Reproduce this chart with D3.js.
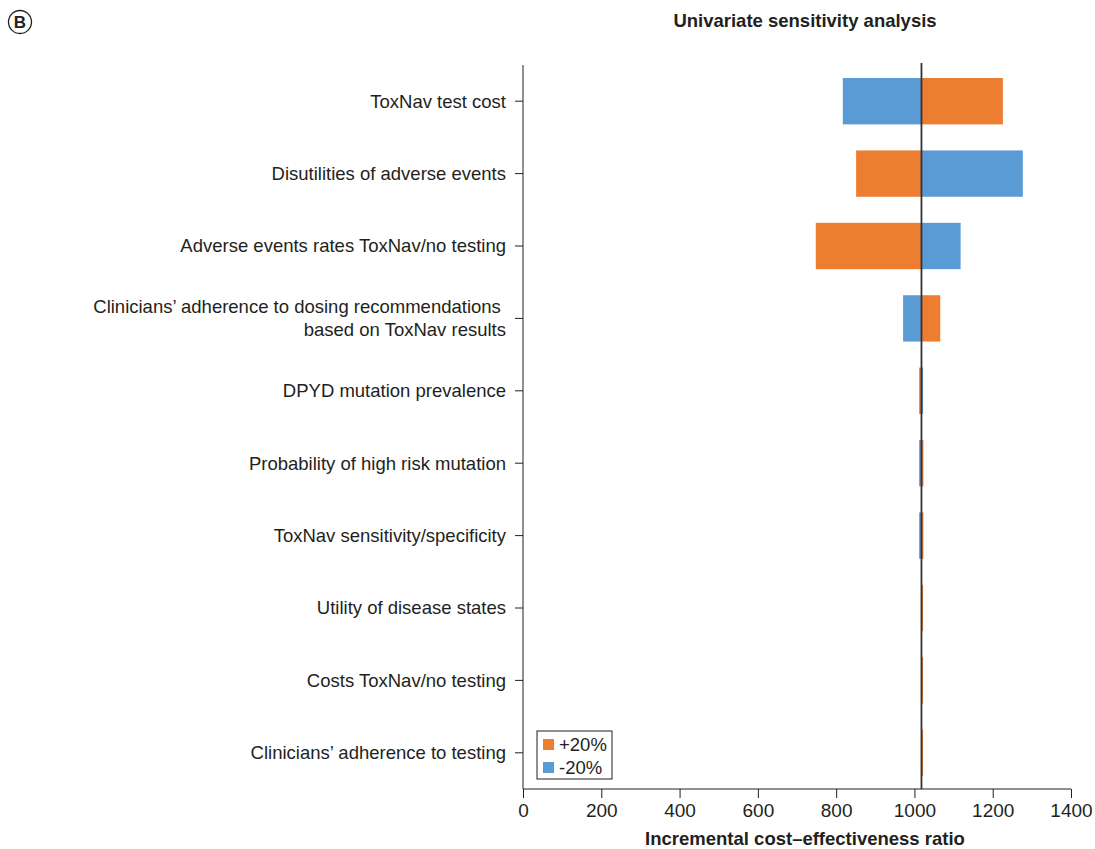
<!DOCTYPE html>
<html>
<head>
<meta charset="utf-8">
<script src="https://cdn.jsdelivr.net/npm/d3@7"></script>
<style>
  body { margin: 0; background: #fff; font-family: "Liberation Sans", Arial, sans-serif; }
  .tick text { font-size: 18.5px; fill: #231f20; font-family: "Liberation Sans", Arial, sans-serif; }
  .xaxis .tick text { font-size: 19px; }
  .domain, .tick line { stroke: #231f20; }
</style>
</head>
<body>
<svg id="chart"></svg>
<script>
//Chart Data
const categories = [
  "ToxNav test cost",
  "Disutilities of adverse events",
  "Adverse events rates ToxNav/no testing",
  "Clinicians\u2019 adherence to dosing recommendations \nbased on ToxNav results",
  "DPYD mutation prevalence",
  "Probability of high risk mutation",
  "ToxNav sensitivity/specificity",
  "Utility of disease states",
  "Costs ToxNav/no testing",
  "Clinicians\u2019 adherence to testing"
];
const baseICER = 1018;
const plus20 = [1226, 851, 748, 1066, 1012, 1023, 1023, 1022, 1022, 1022];
const minus20 = [817, 1277, 1118, 971, 1022, 1012, 1012, 1018, 1018, 1018];
const xTicks = [0, 200, 400, 600, 800, 1000, 1200, 1400];

//Draw Chart
function drawChart(){
  const w = 1095;
  const h = 849;
  const left = 523, right = 1071, top = 65, bottom = 789;
  const orange = "#ED7D31", blue = "#5B9BD5";

  const svg = d3.select("#chart").attr("width", w).attr("height", h);

  const xScale = d3.scaleLinear().domain([0, 1400]).range([left, right]);
  const yScale = d3.scaleBand().domain(categories).range([top, bottom])
                   .paddingInner(0.36).paddingOuter(0.18);

  //Bars: draw the -20% first then +20% for each row
  const rows = categories.map((c, i) => ({cat: c, p: plus20[i], m: minus20[i]}));
  const drawBars = (key, color) => {
    svg.append("g").selectAll("rect")
      .data(rows).enter().append("rect")
      .attr("x", d => xScale(Math.min(baseICER, d[key])))
      .attr("width", d => Math.max(Math.abs(xScale(d[key]) - xScale(baseICER)), 0))
      .attr("y", d => yScale(d.cat))
      .attr("height", yScale.bandwidth())
      .attr("fill", color);
  };
  drawBars("m", blue);
  drawBars("p", orange);

  //Base line
  svg.append("line")
     .attr("x1", xScale(baseICER)).attr("x2", xScale(baseICER))
     .attr("y1", top - 2).attr("y2", bottom)
     .attr("stroke", "#333").attr("stroke-width", 1.8);

  //Axes
  svg.append("g")
     .attr("class", "xaxis")
     .attr("transform", "translate(0," + bottom + ")")
     .call(d3.axisBottom(xScale).tickValues(xTicks).tickSize(9).tickPadding(6).tickFormat(d3.format("d")))
     .call(g => g.select(".domain").attr("d", "M" + left + ",0H" + right));

  const yAxis = svg.append("g")
     .attr("transform", "translate(" + left + ",0)")
     .call(d3.axisLeft(yScale).tickSize(8).tickPadding(9).tickFormat(""))
     .call(g => g.select(".domain").attr("d", "M0," + top + "V" + bottom));

  yAxis.selectAll(".tick text").each(function(d){
    const lines = d.split("\n");
    const t = d3.select(this).attr("text-anchor", "end").attr("dy", null).attr("x", -17);
    lines.forEach((ln, k) => {
      t.append("tspan").attr("x", -17)
       .attr("y", (k - (lines.length - 1) / 2) * 23)
       .attr("dy", "0.35em")
       .text(ln);
    });
  });

  //Legend
  const lg = svg.append("g").attr("transform", "translate(537,731)");
  lg.append("rect").attr("width", 75).attr("height", 48)
    .attr("fill", "#fff").attr("stroke", "#231f20").attr("stroke-width", 1);
  [["+20%", orange], ["-20%", blue]].forEach((e, k) => {
    lg.append("rect").attr("x", 6).attr("y", 8 + k * 23).attr("width", 11).attr("height", 11).attr("fill", e[1]);
    lg.append("text").attr("x", 22).attr("y", 20 + k * 23)
      .attr("font-size", 18.5).attr("fill", "#231f20").text(e[0]);
  });

  //Titles
  svg.append("text")
     .attr("x", 805).attr("y", 27).attr("text-anchor", "middle")
     .attr("font-size", 18.5).attr("font-weight", "bold").attr("fill", "#231f20")
     .text("Univariate sensitivity analysis");

  svg.append("text")
     .attr("x", 805).attr("y", 845).attr("text-anchor", "middle")
     .attr("font-size", 18.5).attr("font-weight", "bold").attr("fill", "#231f20")
     .text("Incremental cost\u2013effectiveness ratio");

  //Panel letter
  svg.append("circle").attr("cx", 20).attr("cy", 22).attr("r", 11.5)
     .attr("fill", "none").attr("stroke", "#231f20").attr("stroke-width", 1.3);
  svg.append("text").attr("x", 20).attr("y", 28).attr("text-anchor", "middle")
     .attr("font-size", 17).attr("font-weight", "bold").attr("fill", "#231f20").text("B");
}
drawChart();
</script>
</body>
</html>
